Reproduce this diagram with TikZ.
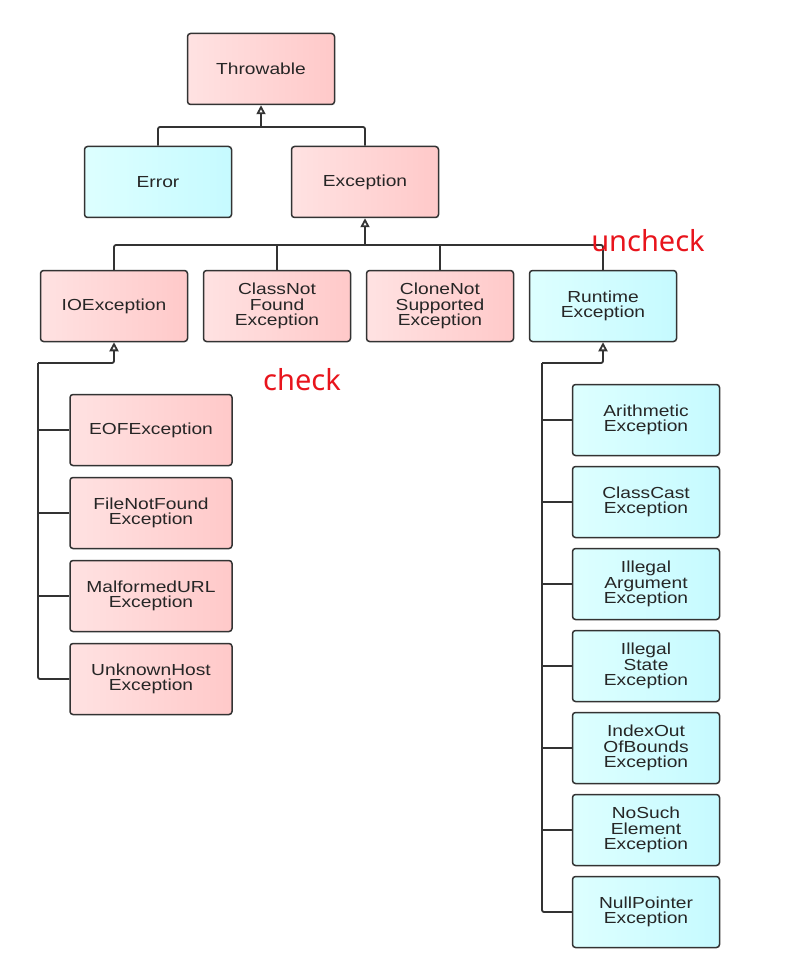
\documentclass[tikz,border=0pt]{standalone}
\usepackage{fontspec}
\setmainfont{Liberation Sans}
\newfontfamily\boxfont{Liberation Sans}[FakeStretch=1.2]
\newfontfamily\notefont{Noto Sans}
\usetikzlibrary{arrows.meta,positioning}
\definecolor{pinkL}{HTML}{FFE2E2}
\definecolor{pinkR}{HTML}{FFC9C9}
\definecolor{cyanL}{HTML}{DDFFFF}
\definecolor{cyanR}{HTML}{C6FAFF}
\definecolor{edge}{HTML}{333333}
\definecolor{note}{HTML}{E8141C}

\begin{document}
\begin{tikzpicture}[
x=1pt, y=-1pt,
font=\boxfont\fontsize{16}{15.5}\selectfont,
node distance=10.5pt and 14.5pt,
box/.style={draw=edge, line width=1.5pt, rounded corners=3pt, align=center, inner sep=0pt, minimum width=147pt, minimum height=71pt, text=black!85},
chk/.style={box, left color=pinkL, right color=pinkR},
unchk/.style={box, left color=cyanL, right color=cyanR},
wide/.style={minimum width=162pt},
link/.style={draw=edge, line width=1.8pt, rounded corners=2pt},
arrow/.style={link, -{Triangle[open, length=9pt, width=9pt]}},
tag/.style={font=\notefont\fontsize{29}{30}\selectfont, text=note, inner sep=0pt}
]
\useasboundingbox (0,0) rectangle (797,968);

\node[chk] (thr) at (261,69) {Throwable};
\node[unchk] (err) at (158,182) {Error};
\node[chk] (exc) at (365,182) {Exception};

\node[chk] (ioe) at (114,306) {IOException};
\node[chk, right=of ioe] (cnf) {ClassNot\\Found\\Exception};
\node[chk, right=of cnf] (cns) {CloneNot\\Supported\\Exception};
\node[unchk, right=of cns] (rte) {Runtime\\Exception};

% checked IO subclasses
\node[chk, wide] (eof) at (151,430) {EOFException};
\node[chk, wide, below=of eof] (fnf) {FileNotFound\\Exception};
\node[chk, wide, below=of fnf] (mal) {MalformedURL\\Exception};
\node[chk, wide, below=of mal] (unk) {UnknownHost\\Exception};

% runtime subclasses
\node[unchk] (ari) at (646,420) {Arithmetic\\Exception};
\node[unchk, below=9.5pt of ari] (ccx) {ClassCast\\Exception};
\node[unchk, below=9.5pt of ccx] (iae) {Illegal\\Argument\\Exception};
\node[unchk, below=9.5pt of iae] (ise) {Illegal\\State\\Exception};
\node[unchk, below=9.5pt of ise] (ioob) {IndexOut\\OfBounds\\Exception};
\node[unchk, below=9.5pt of ioob] (nse) {NoSuch\\Element\\Exception};
\node[unchk, below=9.5pt of nse] (nul) {NullPointer\\Exception};

\coordinate (tb) at (261,127);
\draw[link] (err.north) |- (tb) -| (exc.north);
\draw[arrow] (tb) -- (thr.south);

\coordinate (eb) at (365,245);
\draw[link] (ioe.north) |- (eb) -| (rte.north);
\draw[link] (cnf.north) -- (cnf.north |- eb);
\draw[link] (cns.north) -- (cns.north |- eb);
\draw[arrow] (eb) -- (exc.south);

\coordinate (iot) at (38,363);
\draw[arrow] (iot) -| (ioe.south);
\draw[link] (iot) |- (unk.west);
\foreach \n in {eof,fnf,mal}
  \draw[link] (iot |- \n.west) -- (\n.west);

\coordinate (rtt) at (542,363);
\draw[arrow] (rtt) -| (rte.south);
\draw[link] (rtt) |- (nul.west);
\foreach \n in {ari,ccx,iae,ise,ioob,nse}
  \draw[link] (rtt |- \n.west) -- (\n.west);

\node[tag] (unc) at (648,241) {uncheck};
\node[tag] (chl) at (302,380) {check};
\end{tikzpicture}
\end{document}
